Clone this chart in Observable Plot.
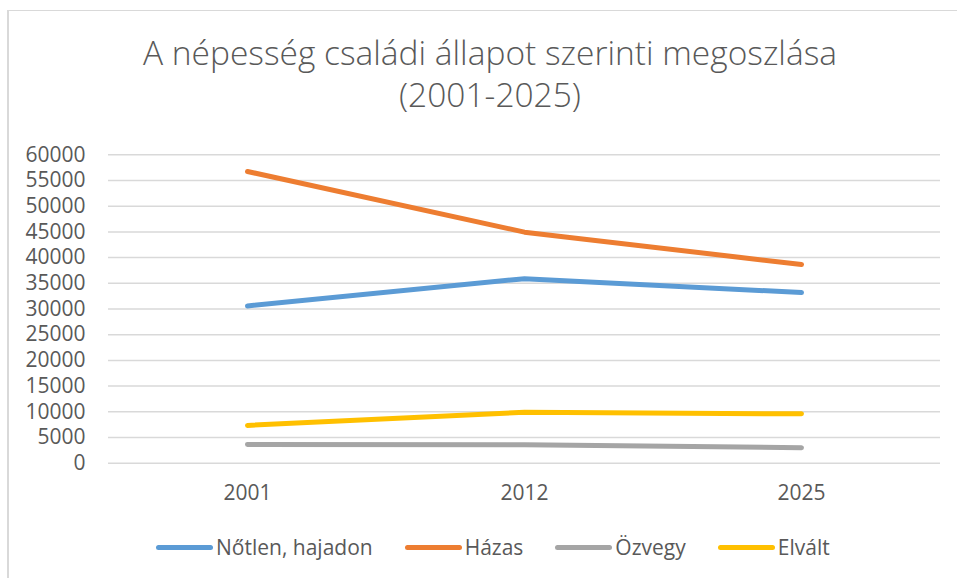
<!DOCTYPE html>
<html>
<head>
<meta charset="utf-8">
<script src="https://cdn.jsdelivr.net/npm/d3@7"></script>
<script src="https://cdn.jsdelivr.net/npm/@observablehq/plot@0.6"></script>
<style>
  html, body { margin: 0; padding: 0; background: #fff; }
  #wrap { position: relative; width: 957px; height: 578px; overflow: hidden; font-family: "Open Sans", sans-serif; color: #595959; }
  #frame { position: absolute; left: 7px; top: 10px; width: 980px; height: 600px; border-left: 2px solid #d9d9d9; border-top: 1px solid #d9d9d9; }
  #title { position: absolute; left: 0; top: 31px; width: 980px; text-align: center; font-size: 33.5px; line-height: 42px; font-weight: 300; color: #595959; }
  #chart { position: absolute; left: 0; top: 130px; }
  #legend { position: absolute; left: 156px; top: 533px; display: flex; align-items: center; column-gap: 32px; font-size: 21px; line-height: 28px; color: #595959; white-space: nowrap; }
  .item { display: flex; align-items: center; }
  .sw { display: inline-block; width: 57px; height: 5px; border-radius: 3px; margin-right: 3px; }
</style>
</head>
<body>
<div id="wrap">
  <div id="frame"></div>
  <div id="title">A népesség családi állapot szerinti megoszlása<br>(2001-2025)</div>
  <div id="chart"></div>
  <div id="legend"></div>
</div>
<script>
const years = ["2001", "2012", "2025"];
const seriesNames = ["Nőtlen, hajadon", "Házas", "Özvegy", "Elvált"];
const notlen = [30600, 35900, 33200];
const hazas = [56750, 44950, 38650];
const ozvegy = [3650, 3600, 3000];
const elvalt = [7350, 9900, 9600];
const colors = ["#5B9BD5", "#ED7D31", "#A5A5A5", "#FFC000"];
const yTicks = d3.range(0, 60001, 5000);

const seriesValues = [notlen, hazas, ozvegy, elvalt];
const data = [];
seriesNames.forEach((s, i) => years.forEach((y, j) => data.push({series: s, year: y, value: seriesValues[i][j]})));

const plot = Plot.plot({
  width: 957,
  height: 380,
  marginTop: 24.3,
  marginBottom: 47.3,
  marginLeft: 108,
  marginRight: 17,
  style: {fontFamily: "'Open Sans', sans-serif", color: "#595959", background: "transparent"},
  x: {type: "point", domain: years, padding: 0.5, align: 0.5, label: null},
  y: {domain: [0, 60000], label: null},
  color: {domain: seriesNames, range: colors},
  marks: [
    Plot.ruleY(yTicks, {stroke: "#d9d9d9", strokeWidth: 1.5}),
    Plot.axisY({ticks: yTicks, tickSize: 0, tickPadding: 23, fontSize: 21, label: null, tickFormat: d => String(d)}),
    Plot.axisX({tickSize: 0, tickPadding: 22, fontSize: 21, label: null}),
    Plot.line(data, {x: "year", y: "value", z: "series", stroke: "series", strokeWidth: 5, strokeLinecap: "round", strokeLinejoin: "round"})
  ]
});
document.getElementById("chart").appendChild(plot);

const legend = document.getElementById("legend");
seriesNames.forEach((s, i) => {
  const item = document.createElement("div");
  item.className = "item";
  const sw = document.createElement("span");
  sw.className = "sw";
  sw.style.background = colors[i];
  const t = document.createElement("span");
  t.textContent = s;
  item.appendChild(sw);
  item.appendChild(t);
  legend.appendChild(item);
});
</script>
</body>
</html>
